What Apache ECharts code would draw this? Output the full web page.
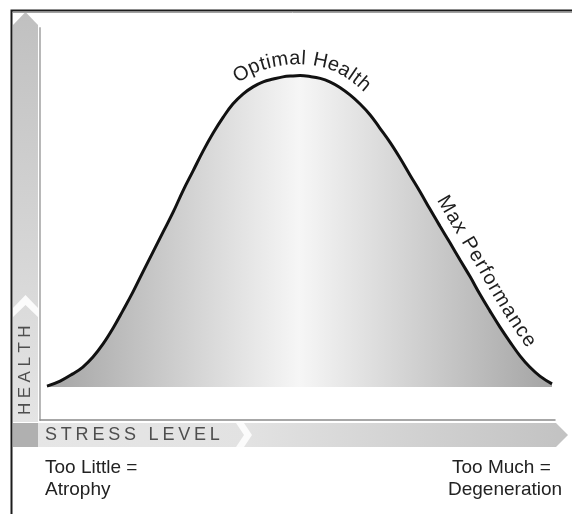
<!DOCTYPE html>
<html><head><meta charset="utf-8">
<script src="https://cdn.jsdelivr.net/npm/echarts@6/dist/echarts.min.js"></script>
<style>html,body{margin:0;padding:0;background:#fff}#c{width:572px;height:514px}</style>
</head><body><div id="c"></div>
<script>
// ---- data ----
const stressLevel = [0, 2.6, 5.1, 7.1, 9.1, 11.1, 13.1, 15.0, 17.0, 19.0, 21.0, 23.0, 25.0, 26.9, 28.9, 30.9, 32.9, 34.9, 36.8, 38.8, 40.8, 42.8, 44.8, 46.7, 48.7, 50.1,
  52.1, 54.1, 56.0, 58.0, 60.0, 62.0, 64.0, 65.9, 67.9, 69.9, 71.9, 73.9, 75.8, 77.8, 79.8, 81.8, 83.8, 85.7, 87.7, 89.7, 91.7, 93.7, 95.6, 97.6, 100];
const health = [0.3, 1.9, 4.2, 6.4, 9.6, 13.8, 18.9, 24.4, 30.4, 36.9, 43.3, 49.7, 56.1, 62.8, 69.2, 75.6, 81.4, 86.5, 90.7, 93.9, 96.2, 97.8, 98.7, 99.4, 99.7, 99.8,
  99.5, 98.9, 97.8, 96.0, 93.6, 90.7, 87.2, 83.0, 78.5, 73.4, 67.9, 62.5, 57.1, 51.6, 46.2, 40.7, 35.3, 29.8, 24.4, 19.2, 14.4, 9.9, 6.4, 3.5, 1.0];
const axisNames   = ['STRESS LEVEL', 'HEALTH'];
const curveLabels = ['Optimal Health', 'Max Performance'];
const curveLabelAt = [50.5, 84.2]; // stress level where each curve label is centred
const leftNote    = ['Too Little =', 'Atrophy'];
const rightNote   = ['Too Much =', 'Degeneration'];

const chart = echarts.init(document.getElementById('c'), null, {renderer: 'canvas'});
const seriesData = stressLevel.map((x, i) => [x, health[i]]);

chart.setOption({
  animation: false,
  backgroundColor: '#fff',
  grid: {left: 40, right: 17, top: 28, bottom: 94, containLabel: false, outerBoundsMode: 'none'},
  xAxis: {type: 'value', min: -1.386, max: 100.594,
    axisLine: {show: true, onZero: false, lineStyle: {color: '#8a8a8a', width: 1.5}},
    axisTick: {show: false}, axisLabel: {show: false}, splitLine: {show: false}},
  yAxis: {type: 'value', min: -10.577, max: 115.06,
    axisLine: {show: true, onZero: false, lineStyle: {color: '#b8b8b8', width: 2}},
    axisTick: {show: false}, axisLabel: {show: false}, splitLine: {show: false}},
  series: [{
    type: 'line', data: seriesData, smooth: 0.4, symbol: 'none',
    lineStyle: {color: '#111', width: 3},
    areaStyle: {origin: 'auto', opacity: 1, color: {type: 'linear', x: 0, y: 0, x2: 1, y2: 0,
      colorStops: [{offset: 0, color: '#a4a4a4'}, {offset: 0.5, color: '#f6f6f6'}, {offset: 1, color: '#a4a4a4'}]}},
    z: 3
  }]
});

// ---- helpers ----
const mctx = document.createElement('canvas').getContext('2d');
function measure(ch, font) { mctx.font = font; return mctx.measureText(ch).width; }

function catmull(pts, n) {
  const out = [];
  for (let i = 0; i < pts.length - 1; i++) {
    const p0 = pts[Math.max(i - 1, 0)], p1 = pts[i], p2 = pts[i + 1], p3 = pts[Math.min(i + 2, pts.length - 1)];
    for (let k = 0; k < n; k++) {
      const t = k / n, t2 = t * t, t3 = t2 * t;
      const f = j => 0.5 * ((2 * p1[j]) + (-p0[j] + p2[j]) * t + (2 * p0[j] - 5 * p1[j] + 4 * p2[j] - p3[j]) * t2 + (-p0[j] + 3 * p1[j] - 3 * p2[j] + p3[j]) * t3);
      out.push([f(0), f(1)]);
    }
  }
  out.push(pts[pts.length - 1]);
  return out;
}

const pix = seriesData.map(d => chart.convertToPixel({gridIndex: 0}, d));
const dense = catmull(pix, 12);

function textOnCurve(str, anchorX, d, font, ls, color) {
  const q = dense.map((p, i) => {
    const a = dense[Math.max(i - 6, 0)], b = dense[Math.min(i + 6, dense.length - 1)];
    let tx = b[0] - a[0], ty = b[1] - a[1]; const L = Math.hypot(tx, ty) || 1; tx /= L; ty /= L;
    return [p[0] + ty * d, p[1] - tx * d];
  });
  const cum = [0];
  for (let i = 1; i < q.length; i++) cum.push(cum[i - 1] + Math.hypot(q[i][0] - q[i - 1][0], q[i][1] - q[i - 1][1]));
  const ax = chart.convertToPixel({gridIndex: 0}, [anchorX, 0])[0];
  let bi = 0, bd = 1e9;
  dense.forEach((p, i) => { const dd = Math.abs(p[0] - ax); if (dd < bd) { bd = dd; bi = i; } });
  const sMid = cum[bi];
  const at = s => {
    s = Math.max(0, Math.min(cum[cum.length - 1], s));
    let i = 1; while (i < cum.length - 1 && cum[i] < s) i++;
    const t = (s - cum[i - 1]) / ((cum[i] - cum[i - 1]) || 1);
    return [q[i - 1][0] + (q[i][0] - q[i - 1][0]) * t, q[i - 1][1] + (q[i][1] - q[i - 1][1]) * t];
  };
  const chars = str.split('');
  const ws = chars.map(c => measure(c, font));
  const total = ws.reduce((a, b) => a + b, 0) + ls * (chars.length - 1);
  let s = sMid - total / 2;
  const els = [];
  chars.forEach((c, i) => {
    const sc = s + ws[i] / 2;
    const p = at(sc), p1 = at(sc - 5), p2 = at(sc + 5);
    const ang = Math.atan2(p2[1] - p1[1], p2[0] - p1[0]);
    if (c !== ' ') els.push({type: 'text', x: p[0], y: p[1], rotation: -ang, z: 20,
      style: {text: c, font: font, fill: color, align: 'center', verticalAlign: 'middle', textAlign: 'center', textVerticalAlign: 'middle'}});
    s += ws[i] + ls;
  });
  return els;
}

function spacedText(str, x, y, font, ls, color, vertical) {
  const els = []; let pos = 0;
  str.split('').forEach(c => {
    const w = measure(c, font);
    const cpos = pos + w / 2;
    if (c !== ' ') els.push(vertical
      ? {type: 'text', x: x, y: y - cpos, rotation: Math.PI / 2, z: 20,
         style: {text: c, font: font, fill: color, align: 'center', verticalAlign: 'middle', textAlign: 'center', textVerticalAlign: 'middle'}}
      : {type: 'text', x: x + cpos, y: y, z: 20,
         style: {text: c, font: font, fill: color, align: 'center', verticalAlign: 'middle', textAlign: 'center', textVerticalAlign: 'middle'}});
    pos += w + ls;
  });
  return els;
}

const curveFont = '20px "Liberation Sans", Arial, sans-serif';
const noteFont = '19px "Liberation Sans", Arial, sans-serif';
const g = [];

// frame (top and left rules)
g.push({type: 'polyline', z: 30, shape: {points: [[11.5, 514], [11.5, 10.5], [572, 10.5]]}, style: {stroke: '#1c1c1c', lineWidth: 2, fill: null}});
g.push({type: 'line', z: 29, shape: {x1: 13, y1: 12.5, x2: 572, y2: 12.5}, style: {stroke: '#a0a0a0', lineWidth: 1}});

// vertical band (health arrow)
g.push({type: 'polygon', z: 1, shape: {points: [[13, 422], [13, 25], [25.5, 12], [38, 25], [38, 422]]},
  style: {fill: {type: 'linear', x: 0, y: 0, x2: 0, y2: 1, colorStops: [{offset: 0, color: '#c0c0c0'}, {offset: 0.7, color: '#dadada'}, {offset: 1, color: '#e4e4e4'}]}}});
g.push({type: 'polygon', z: 2, shape: {points: [[13, 308], [25.5, 295], [38, 308], [38, 317], [25.5, 305], [13, 317]]}, style: {fill: '#fbfbfb'}});
// horizontal band (stress arrow)
g.push({type: 'polygon', z: 1, shape: {points: [[38, 423], [556, 423], [568, 435], [556, 447], [38, 447]]},
  style: {fill: {type: 'linear', x: 0, y: 0, x2: 1, y2: 0, colorStops: [{offset: 0, color: '#e6e6e6'}, {offset: 0.4, color: '#e2e2e2'}, {offset: 1, color: '#c2c2c2'}]}}});
g.push({type: 'polygon', z: 2, shape: {points: [[236, 423], [244, 423], [252, 435], [244, 447], [236, 447], [244, 435]]}, style: {fill: '#fbfbfb'}});
// corner square
g.push({type: 'rect', z: 2, shape: {x: 13, y: 423, width: 25, height: 24}, style: {fill: '#b0b0b0'}});

// axis names
spacedText(axisNames[0], 45, 435, '18px "Liberation Sans", Arial, sans-serif', 3.8, '#4e4e4e').forEach(e => g.push(e));
spacedText(axisNames[1], 25.5, 415, '17px "Liberation Sans", Arial, sans-serif', 4.5, '#4e4e4e', true).forEach(e => g.push(e));

// curve labels
textOnCurve(curveLabels[0], curveLabelAt[0], 17, curveFont, 1.0, '#1e1e1e').forEach(e => g.push(e));
textOnCurve(curveLabels[1], curveLabelAt[1], 16, curveFont, 1.1, '#1e1e1e').forEach(e => g.push(e));

// end notes
[[leftNote[0], 45, 468], [leftNote[1], 45, 490], [rightNote[0], 452, 468], [rightNote[1], 448, 490]].forEach(([t, x, y]) =>
  g.push({type: 'text', x: x, y: y, z: 20, style: {text: t, font: noteFont, fill: '#222', align: 'left', verticalAlign: 'middle', textAlign: 'left', textVerticalAlign: 'middle'}}));

chart.setOption({graphic: {elements: g}});
</script>
</body></html>
